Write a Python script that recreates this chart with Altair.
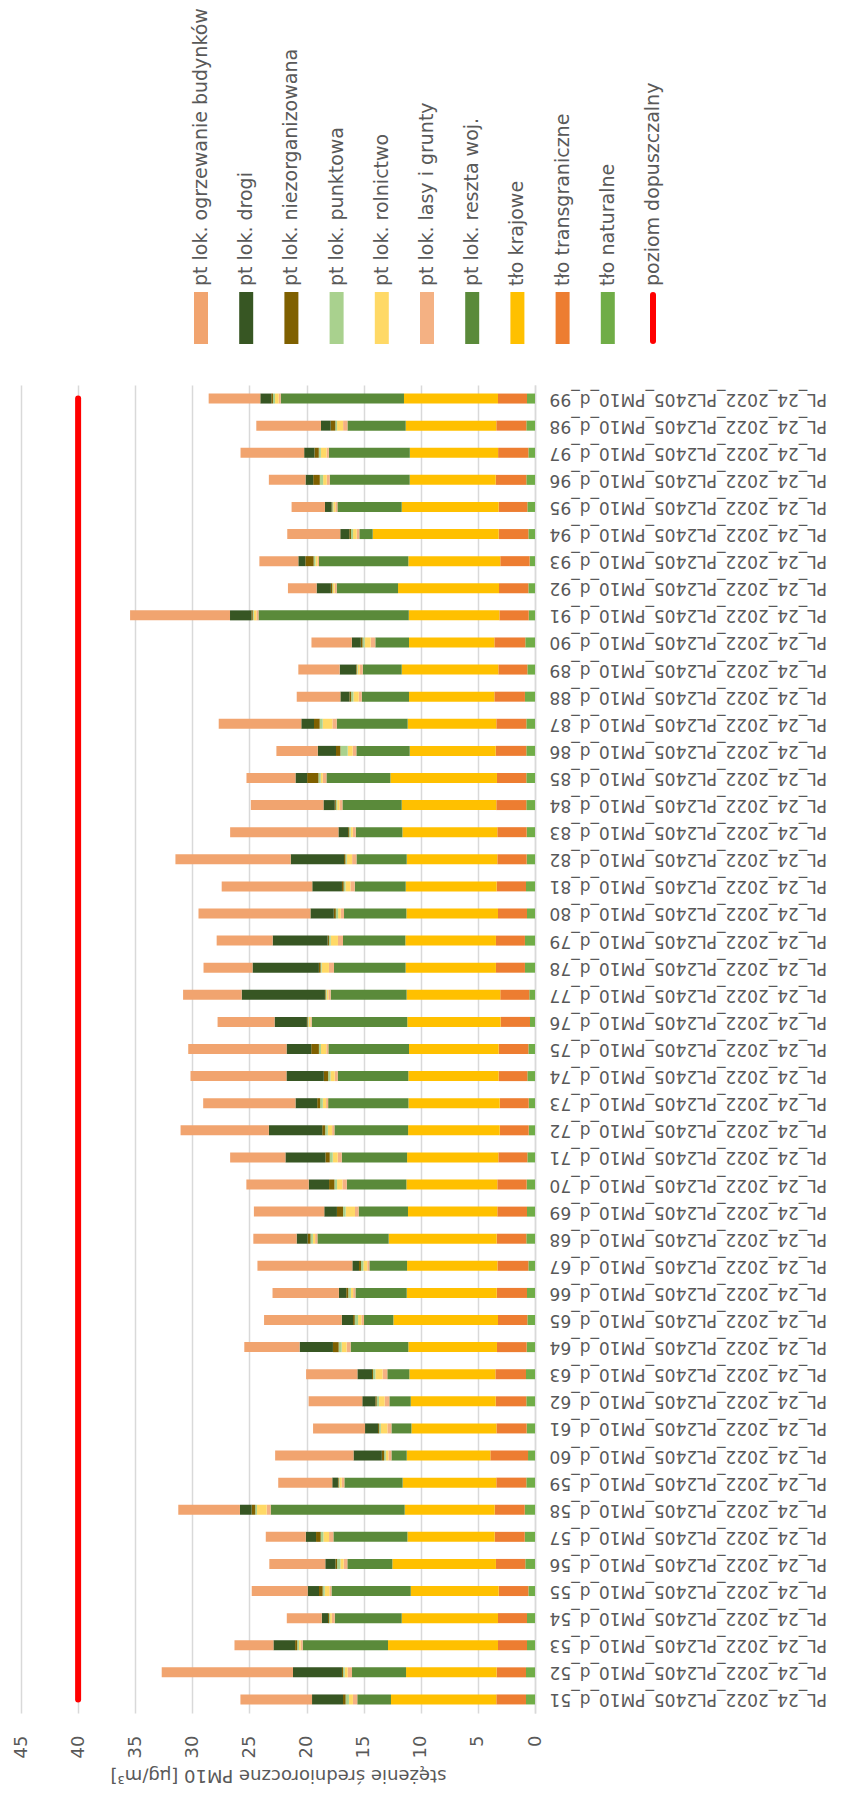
import altair as alt
import pandas as pd

site_ids = list(range(51, 100))
categories = [f"PL_24_2022_PL2405_PM10_d_{i}" for i in site_ids]

tlo_naturalne = [0.79,0.79,0.70,0.70,0.58,0.85,0.90,0.90,0.76,0.61,
                 0.73,0.76,0.79,0.73,0.67,0.70,0.58,0.76,0.70,0.73,
                 0.67,0.55,0.55,0.67,0.58,0.44,0.50,0.88,0.88,0.70,
                 0.79,0.73,0.73,0.76,0.76,0.76,0.76,0.88,0.67,0.85,
                 0.55,0.58,0.47,0.58,0.67,0.76,0.58,0.76,0.70]
tlo_transgraniczne = [2.60,2.57,2.54,2.54,2.60,2.57,2.63,2.63,2.63,3.30,
                      2.65,2.68,2.68,2.60,2.57,2.65,2.71,2.60,2.60,2.57,
                      2.54,2.54,2.54,2.51,2.60,2.57,2.54,2.54,2.54,2.54,
                      2.57,2.57,2.57,2.63,2.57,2.68,2.63,2.68,2.54,2.71,
                      2.57,2.57,2.57,2.60,2.51,2.68,2.65,2.63,2.54]
tlo_krajowe = [9.22,7.93,9.63,8.43,7.70,9.07,7.64,7.88,8.20,7.32,
               7.44,7.44,7.53,7.76,9.16,7.88,7.91,9.45,7.82,7.96,
               7.99,8.02,7.99,7.91,7.85,8.17,8.20,7.91,7.93,8.02,
               7.96,7.93,8.31,8.28,9.33,7.53,7.76,7.47,8.46,7.47,
               7.93,8.84,8.05,11.03,8.49,7.53,7.73,7.93,8.23]
reszta_woj = [2.95,4.73,7.47,5.86,6.94,3.94,6.48,11.73,5.10,1.34,
              1.75,1.87,1.93,5.05,2.57,4.49,3.30,6.24,4.32,5.22,
              5.72,6.45,7.03,6.18,7.06,8.37,6.65,6.27,5.46,5.46,
              4.46,4.40,4.08,5.19,5.60,4.67,6.21,4.14,3.41,2.95,
              13.16,5.37,7.82,1.17,5.63,7.00,7.09,5.10,10.79]
lasy_grunty = [0.38,0.38,0.18,0.26,0.18,0.32,0.38,0.35,0.23,0.26,
               0.35,0.41,0.41,0.35,0.23,0.20,0.18,0.20,0.32,0.38,
               0.35,0.20,0.18,0.26,0.18,0.12,0.20,0.44,0.44,0.29,
               0.38,0.38,0.26,0.26,0.32,0.32,0.38,0.26,0.26,0.41,
               0.18,0.18,0.12,0.23,0.18,0.26,0.20,0.38,0.18]
rolnictwo = [0.35,0.26,0.15,0.15,0.41,0.29,0.50,0.85,0.18,0.23,
             0.58,0.50,0.64,0.44,0.29,0.20,0.35,0.20,0.82,0.47,
             0.44,0.38,0.29,0.38,0.47,0.15,0.15,0.64,0.64,0.23,
             0.44,0.47,0.20,0.20,0.18,0.44,0.85,0.47,0.18,0.53,
             0.23,0.15,0.20,0.32,0.18,0.32,0.50,0.53,0.32]
punktowa = [0.29,0.15,0.15,0.09,0.18,0.29,0.23,0.15,0.09,0.15,
            0.15,0.20,0.20,0.26,0.29,0.23,0.20,0.20,0.23,0.23,
            0.26,0.23,0.23,0.20,0.18,0.09,0.09,0.09,0.15,0.20,
            0.15,0.12,0.12,0.12,0.20,0.64,0.26,0.20,0.09,0.18,
            0.09,0.06,0.15,0.18,0.09,0.29,0.18,0.15,0.18]
niezorganizowana = [0.23,0.09,0.18,0.09,0.32,0.15,0.41,0.32,0.06,0.20,
                    0.09,0.12,0.09,0.50,0.15,0.18,0.18,0.26,0.53,0.47,
                    0.38,0.26,0.26,0.38,0.67,0.06,0.06,0.15,0.12,0.18,
                    0.15,0.12,0.09,0.09,0.99,0.38,0.50,0.15,0.06,0.15,
                    0.12,0.12,0.73,0.15,0.06,0.58,0.38,0.41,0.15]
drogi = [2.71,4.29,1.90,0.55,0.99,0.88,0.90,1.02,0.50,2.48,
         1.14,1.14,1.28,2.92,0.99,0.64,0.58,0.96,1.11,1.78,
         3.50,4.67,1.90,3.27,2.16,2.83,7.29,5.81,4.81,2.04,
         2.60,4.67,0.85,0.99,1.02,1.60,1.11,0.79,1.43,0.79,
         1.87,1.25,0.61,0.79,0.58,0.67,0.90,0.85,0.96]
ogrzewanie = [6.27,11.49,3.41,3.06,4.90,4.90,3.50,5.40,4.73,6.86,
              4.55,4.70,4.49,4.84,6.80,5.81,8.31,3.79,6.16,5.46,
              4.84,7.73,8.08,8.40,8.61,4.99,5.13,4.29,4.90,9.80,
              7.93,10.09,9.48,6.36,4.29,3.62,7.23,3.82,3.62,3.53,
              8.75,2.51,3.41,4.64,2.92,3.21,5.57,5.66,4.52]
poziom_dopuszczalny = 40

# stacking order: first = next to zero
series_names = ["tło naturalne", "tło transgraniczne", "tło krajowe",
                "pt lok. reszta woj.", "pt lok. lasy i grunty", "pt lok. rolnictwo",
                "pt lok. punktowa", "pt lok. niezorganizowana", "pt lok. drogi",
                "pt lok. ogrzewanie budynków"]
series_values = [tlo_naturalne, tlo_transgraniczne, tlo_krajowe, reszta_woj,
                 lasy_grunty, rolnictwo, punktowa, niezorganizowana, drogi, ogrzewanie]
series_colors = ["#70AD47", "#ED7D31", "#FFC000", "#5A8A3A", "#F4B183",
                 "#FFD966", "#A9D18E", "#7F6000", "#375623", "#F1A46F"]

legend_names = list(reversed(series_names)) + ["poziom dopuszczalny"]
legend_colors = list(reversed(series_colors)) + ["#FF0000"]

rows = []
for k, (name, vals) in enumerate(zip(series_names, series_values)):
    for cat, v in zip(categories, vals):
        rows.append({"cat": cat, "series": name, "value": v, "ord": k})
df = pd.DataFrame(rows)
limit_df = pd.DataFrame({"cat": categories, "limit": [poziom_dopuszczalny] * len(categories)})
leg_df = pd.DataFrame({"name": legend_names, "color": legend_colors})

TXT = "#595959"
y_sort = list(reversed(categories))
x_scale = alt.Scale(domain=[0, 45], reverse=True, nice=False, zero=True)
x_axis = alt.Axis(values=list(range(0, 50, 5)), labelAngle=270, labelFontSize=18,
                  labelColor=TXT, grid=True, gridColor="#D9D9D9", gridWidth=1.5,
                  domain=False, ticks=False, labelPadding=22, labelOverlap=False,
                  title="stężenie średnioroczne PM10 [µg/m³]", titleAngle=180,
                  titleBaseline="bottom", titleFontSize=18, titleColor=TXT,
                  titleFontWeight="normal", titlePadding=8)
y_axis = alt.Axis(orient="right", labelAngle=180, labelAlign="right", labelBaseline="middle",
                  labelFontSize=17, labelColor=TXT, ticks=False, domain=True,
                  domainColor="#D9D9D9", domainWidth=1.5, labelPadding=14,
                  labelLimit=500, labelOverlap=False, title=None, grid=False)

bars = alt.Chart(df).mark_bar(size=10).encode(
    x=alt.X("value:Q", stack="zero", scale=x_scale, axis=x_axis),
    y=alt.Y("cat:N", sort=y_sort, axis=y_axis),
    color=alt.Color("series:N", scale=alt.Scale(domain=series_names, range=series_colors), legend=None),
    order=alt.Order("ord:Q", sort="ascending"),
)
redline = alt.Chart(limit_df).mark_line(color="#FF0000", strokeWidth=6, strokeCap="round").encode(
    x=alt.X("limit:Q", scale=x_scale, axis=x_axis),
    y=alt.Y("cat:N", sort=y_sort, axis=y_axis),
)
main = alt.layer(bars, redline)

leg_x = alt.X("name:N", sort=legend_names,
              scale=alt.Scale(type="point", domain=legend_names, range=[180, 632], padding=0),
              axis=None)
leg_sw = alt.Chart(leg_df.iloc[:10]).mark_rule(strokeWidth=14).encode(
    x=leg_x, y=alt.value(-93), y2=alt.value(-41), color=alt.Color("color:N", scale=None))
leg_red = alt.Chart(leg_df.iloc[10:]).mark_rule(strokeWidth=6, strokeCap="round", color="#FF0000").encode(
    x=leg_x, y=alt.value(-90), y2=alt.value(-44))
leg_txt = alt.Chart(leg_df).mark_text(angle=270, align="left", baseline="middle",
                                      fontSize=19, color=TXT).encode(
    x=leg_x, y=alt.value(-99), text="name:N")
legend = alt.layer(leg_sw, leg_red, leg_txt)

chart = alt.layer(main, legend).resolve_scale(x="independent").properties(
    width=514, height=1328,
    padding={"left": 4, "top": 0, "right": 0, "bottom": 12},
).configure(font="DejaVu Sans").configure_view(stroke=None)

chart.save("out.html", embed_options={"renderer": "svg", "actions": False})
